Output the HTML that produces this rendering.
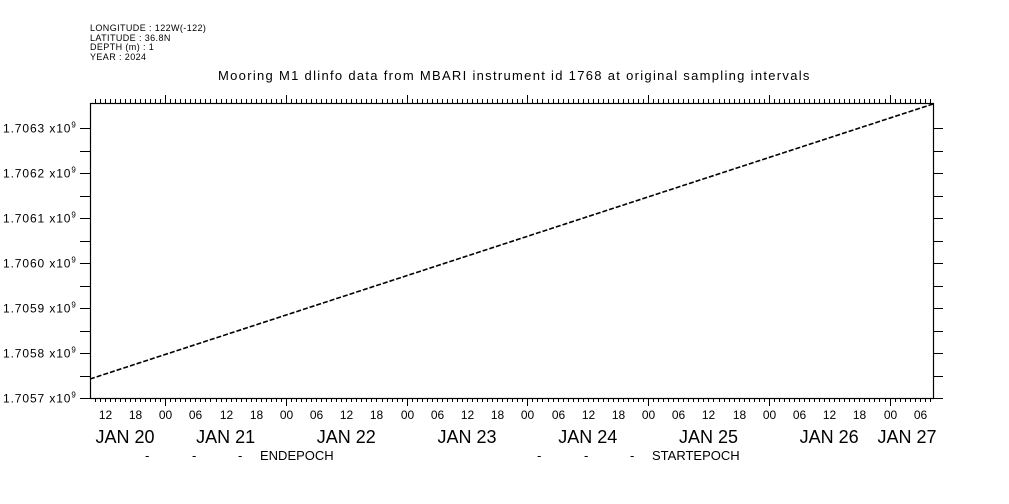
<!DOCTYPE html>
<html><head><meta charset="utf-8"><style>
html,body{margin:0;padding:0;background:#fff;}
svg{display:block;font-family:"Liberation Sans",sans-serif;}
</style></head><body>
<svg id="s" width="1009" height="504" xmlns="http://www.w3.org/2000/svg">
<rect width="1009" height="504" fill="#fff"/>
<g font-size="9" fill="#000" letter-spacing="0.4">
<text x="90" y="31">LONGITUDE : 122W(-122)</text>
<text x="90" y="41">LATITUDE : 36.8N</text>
<text x="90" y="50">DEPTH (m) : 1</text>
<text x="90" y="60">YEAR : 2024</text>
</g>
<text x="218" y="80" font-size="13" letter-spacing="1.3">Mooring M1 dlinfo data from MBARI instrument id 1768 at original sampling intervals</text>
<rect x="90.5" y="103.5" width="843" height="295" fill="none" stroke="#000" stroke-width="1.2"/>
<g id="t" stroke="#000" stroke-width="1"></g>
<g id="l" fill="#000"></g>
<line x1="90" y1="379" x2="933" y2="104" stroke="#000" stroke-width="1.6" stroke-dasharray="5,2"/>
<g font-size="13" fill="#000">
<text x="145" y="460">-</text><text x="192" y="460">-</text><text x="238" y="460">-</text>
<text x="260" y="460">ENDEPOCH</text>
<text x="537" y="460">-</text><text x="584" y="460">-</text><text x="630" y="460">-</text>
<text x="652" y="460">STARTEPOCH</text>
</g>
</svg>
<script>
var t=document.getElementById('t'),l=document.getElementById('l'),ns='http://www.w3.org/2000/svg';
function ln(a,b,c,d){var e=document.createElementNS(ns,'line');e.setAttribute('x1',a);e.setAttribute('y1',b);e.setAttribute('x2',c);e.setAttribute('y2',d);t.appendChild(e);}
function tx(x,y,s,sz,anc){var e=document.createElementNS(ns,'text');e.setAttribute('x',x);e.setAttribute('y',y);e.setAttribute('font-size',sz);if(anc)e.setAttribute('text-anchor',anc);e.textContent=s;l.appendChild(e);return e;}
var d0=44.5,pd=120.72,ph=pd/24;
for(var h=0;h<24*8;h++){var x=d0+h*ph;if(x<90.5||x>933)continue;x=Math.round(x)+0.5;
 var maj=(h%24==0),six=(h%6==0);
 ln(x,103,x,maj?95:99);ln(x,398,x,maj?406:402);
 if(six){var hh=h%24;tx(x,419,(hh<10?'0':'')+hh,12,'middle');}
}
var days=['JAN 20','JAN 21','JAN 22','JAN 23','JAN 24','JAN 25','JAN 26','JAN 27'];
for(var i=0;i<8;i++){var c=d0+i*pd+pd/2; if(i==0)c=125; if(i==7)c=907; tx(c,443,days[i],18,'middle');}
for(var k=0;k<=12;k++){var y=Math.round(398-k*22.5)+0.5;
 ln(80,y,90,y);ln(933,y,943,y);
 if(k%2==0){var v=(1.7057+k/2*0.0001).toFixed(4);var e=tx(3,y+4,v+' x10',12);e.setAttribute('letter-spacing','0.9');
  var s=document.createElementNS(ns,'tspan');s.setAttribute('dy','-5');s.setAttribute('font-size','8');s.textContent='9';e.appendChild(s);}
}
</script>
</body></html>
